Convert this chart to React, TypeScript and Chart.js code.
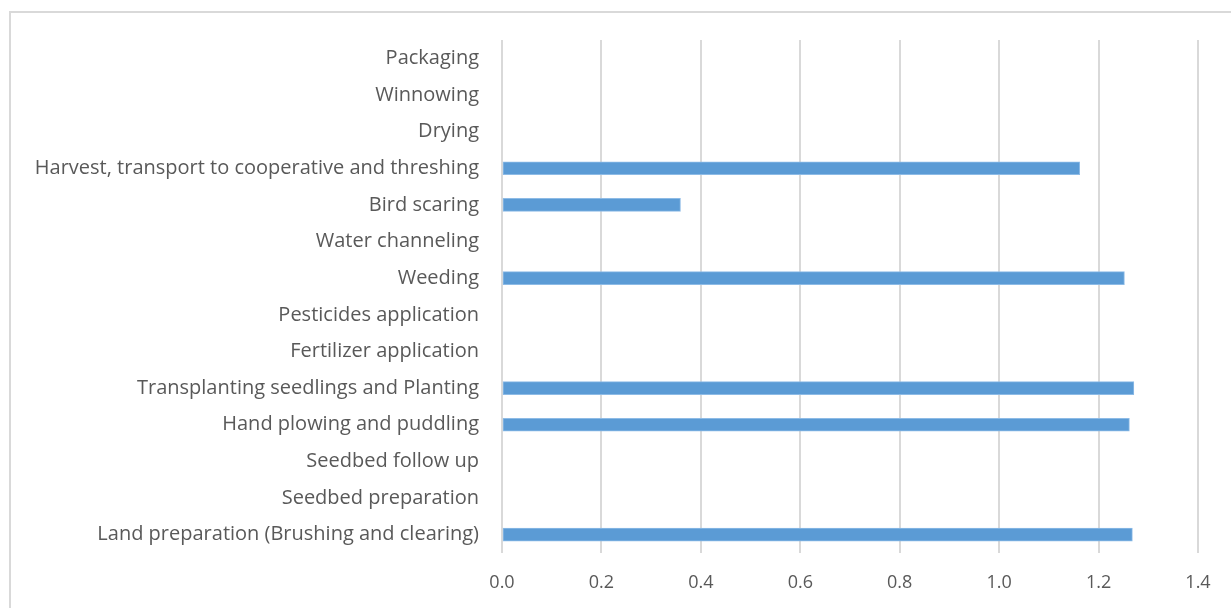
import React, { useEffect, useRef } from "react";
import { Chart, registerables } from "chart.js";

Chart.register(...registerables);

// Farm activities, in the order they happen in the season (bottom to top on the chart)
const activities: string[] = [
  "Land preparation (Brushing and clearing)",
  "Seedbed preparation",
  "Seedbed follow up",
  "Hand plowing and puddling",
  "Transplanting seedlings and Planting",
  "Fertilizer application",
  "Pesticides application",
  "Weeding",
  "Water channeling",
  "Bird scaring",
  "Harvest, transport to cooperative and threshing",
  "Drying",
  "Winnowing",
  "Packaging",
];

const values: (number | null)[] = [
  1.268, null, null, 1.262, 1.271, null, null, 1.252, null, 0.359, 1.162, null, null, null,
];

const xMin = 0;
const xMax = 1.4;
const xStep = 0.2;

const FONT = "'Open Sans', sans-serif";
const TEXT = "#595959";

export default function App() {
  const canvasRef = useRef<HTMLCanvasElement | null>(null);

  useEffect(() => {
    document.body.style.margin = "0";
    document.body.style.overflow = "hidden";
    const ctx = canvasRef.current;
    if (!ctx) return;
    const chart = new Chart(ctx, {
      type: "bar",
      data: {
        labels: activities,
        datasets: [
          {
            data: values,
            backgroundColor: "#5B9BD5",
            borderColor: "#8DBBE6",
            borderWidth: 1,
            borderSkipped: false,
            barThickness: 13,
          },
        ],
      },
      options: {
        indexAxis: "y",
        animation: false,
        responsive: false,
        maintainAspectRatio: false,
        layout: { padding: { top: 40, right: 33, left: 0, bottom: 0 } },
        plugins: {
          legend: { display: false },
          tooltip: { enabled: false },
        },
        scales: {
          x: {
            min: xMin,
            max: xMax,
            grid: { color: "#D9D9D9", lineWidth: 2, drawTicks: false },
            border: { display: false },
            ticks: {
              stepSize: xStep,
              padding: 19,
              color: TEXT,
              font: { family: FONT, size: 18 },
              callback: (v: any) => Number(v).toFixed(1),
            },
            afterFit: (scale: any) => {
              scale.height = 55;
            },
          },
          y: {
            reverse: true,
            grid: { display: false, drawTicks: false },
            border: { display: false },
            ticks: {
              padding: 23,
              color: TEXT,
              font: { family: FONT, size: 20 },
            },
            afterFit: (scale: any) => {
              scale.width = 502;
            },
          },
        },
      },
    });
    return () => chart.destroy();
  }, []);

  return (
    <div style={{ position: "fixed", left: 0, top: 0, width: 1231, height: 608, overflow: "hidden", background: "#fff" }}>
      <div
        style={{
          position: "absolute",
          left: 9,
          top: 11,
          width: 1260,
          height: 640,
          border: "2px solid #D9D9D9",
          boxSizing: "border-box",
        }}
      />
      <canvas ref={canvasRef} width={1231} height={608} style={{ position: "absolute", left: 0, top: 0 }} />
    </div>
  );
}
